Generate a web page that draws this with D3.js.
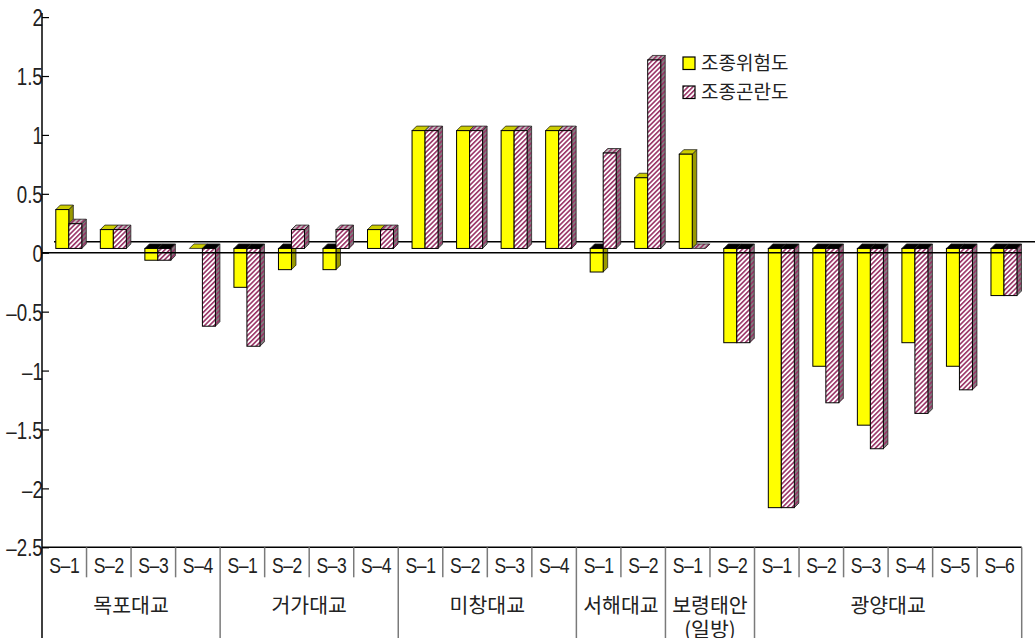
<!DOCTYPE html>
<html>
<head>
<meta charset="utf-8">
<script src="https://cdn.jsdelivr.net/npm/d3@7"></script>
<style>
  body { margin: 0; background: #fff; }
  svg { display: block; }
</style>
</head>
<body>
<div id="plot"></div>
<script>
// data
const subLabels = ["S–1", "S–2", "S–3", "S–4", "S–1", "S–2", "S–3", "S–4", "S–1", "S–2", "S–3", "S–4",
  "S–1", "S–2", "S–1", "S–2", "S–1", "S–2", "S–3", "S–4", "S–5", "S–6"];
const groupNames = ["목포대교", "거가대교", "미창대교", "서해대교", "보령태안|(일방)", "광양대교"];
const groupSizes = [4, 4, 4, 2, 2, 6];
const seriesNames = ["조종위험도", "조종곤란도"];
const riskValues = [0.33, 0.16, -0.1, 0, -0.33, -0.18, -0.18, 0.16, 1, 1, 1, 1,
  -0.2, 0.6, 0.8, -0.8, -2.2, -1, -1.5, -0.8, -1, -0.4];
const difficultyValues = [0.21, 0.16, -0.1, -0.66, -0.83, 0.16, 0.16, 0.16, 1, 1, 1, 1,
  0.81, 1.6, 0, -0.8, -2.2, -1.31, -1.7, -1.4, -1.2, -0.4];
const yTicks = [2, 1.5, 1, 0.5, 0, -0.5, -1, -1.5, -2, -2.5];

const width = 1035,
  height = 638;
const left = 42,
  right = 1021.7;
const depth = 4.5; // bar depth offset
const floorShift = 4.3; // front face of bars sits above the axis zero
const korFont = "'Noto Sans CJK KR', sans-serif";
const numFont = "'Liberation Sans', Arial, sans-serif";

const svg = d3.select("#plot").append("svg").attr("width", width).attr("height", height);

const y = d3.scaleLinear().domain([-2.5, 2]).range([547.3, 17.1]);
const x = d3.scaleBand().domain(d3.range(subLabels.length)).range([left, right]).padding(0);
const xs = d3.scaleBand().domain([0, 1]).range([13.8, 39.8]).padding(0);
const yb = (v) => y(v) - floorShift;

// patterns
const defs = svg.append("defs");
const hatch = (id, bg) => {
  const p = defs.append("pattern").attr("id", id).attr("patternUnits", "userSpaceOnUse")
    .attr("width", 3.4).attr("height", 3.4).attr("patternTransform", "rotate(45)");
  p.append("rect").attr("width", 3.4).attr("height", 3.4).attr("fill", bg);
  p.append("rect").attr("width", 1.6).attr("height", 3.4).attr("fill", "#993366");
};
hatch("hFront", "#ffffff");
hatch("hSide", "#7f7f7f");
hatch("hTop", "#bdbdbd");

const styles = [
  { front: "#ffff00", side: "#999900", top: "#cccc00" },
  { front: "url(#hFront)", side: "url(#hSide)", top: "url(#hTop)" },
];

// back floor line
svg.append("line").attr("x1", left + 12).attr("x2", width).attr("y1", y(0) - 11).attr("y2", y(0) - 11)
  .attr("stroke", "#000").attr("stroke-width", 1.4);

// bars
const bars = [];
subLabels.forEach((s, i) => {
  [riskValues[i], difficultyValues[i]].forEach((v, k) => bars.push({ i, k, v }));
});

const pts = (a) => a.map((p) => p.join(",")).join(" ");

const g = svg.append("g").selectAll("g").data(bars).join("g");
g.each(function (d) {
  const el = d3.select(this);
  const x0 = x(d.i) + xs(d.k),
    x1 = x0 + xs.bandwidth();
  const yT = yb(Math.max(d.v, 0)),
    yB = yb(Math.min(d.v, 0));
  const st = styles[d.k];
  el.append("polygon")
    .attr("points", pts([[x1, yT], [x1 + depth, yT - depth], [x1 + depth, yB - depth], [x1, yB]]))
    .attr("fill", st.side).attr("stroke", "#222").attr("stroke-width", 0.8);
  el.append("polygon")
    .attr("points", pts([[x0, yT], [x0 + depth, yT - depth], [x1 + depth, yT - depth], [x1, yT]]))
    .attr("fill", d.v < 0 ? "#000" : st.top).attr("stroke", "#222").attr("stroke-width", 0.8);
  if (yB - yT > 0)
    el.append("rect").attr("x", x0).attr("y", yT).attr("width", x1 - x0).attr("height", yB - yT)
      .attr("fill", st.front).attr("stroke", "#000").attr("stroke-width", 1);
});

// front zero line
svg.append("line").attr("x1", left).attr("x2", right).attr("y1", y(0)).attr("y2", y(0))
  .attr("stroke", "#000").attr("stroke-width", 1.4);

// y axis
const yAxis = svg.append("g").attr("transform", `translate(${left},0)`)
  .call(d3.axisLeft(y).tickValues(yTicks).tickSizeInner(-7).tickSizeOuter(0).tickPadding(-1)
    .tickFormat((d) => (d < 0 ? "–" + Math.abs(d) : d)));
yAxis.select(".domain").remove();
yAxis.selectAll(".tick line").attr("stroke", "#000").attr("stroke-width", 1.2);
yAxis.selectAll(".tick text").attr("font-family", numFont).attr("font-size", 24).attr("fill", "#222")
  .attr("dy", "0.36em").attr("transform", "scale(0.78,1)");
svg.append("line").attr("x1", left).attr("x2", left).attr("y1", 13).attr("y2", height)
  .attr("stroke", "#000").attr("stroke-width", 1.5);

// category table
const tableTop = y(-2.5);
svg.append("line").attr("x1", left).attr("x2", right).attr("y1", tableTop).attr("y2", tableTop)
  .attr("stroke", "#000").attr("stroke-width", 1.5);

const groupStarts = groupSizes.map((n, j) => d3.sum(groupSizes.slice(0, j)));
d3.range(1, subLabels.length + 1).forEach((i) => {
  const xx = i < subLabels.length ? x(i) : right;
  const full = i === subLabels.length || groupStarts.includes(i);
  svg.append("line").attr("x1", xx).attr("x2", xx).attr("y1", tableTop).attr("y2", full ? height : tableTop + 30)
    .attr("stroke", "#7a7a7a").attr("stroke-width", 1.5);
});

svg.append("g").selectAll("text").data(subLabels).join("text")
  .attr("transform", (d, i) => `translate(${x(i) + x.bandwidth() / 2},572.5) scale(0.78,1)`)
  .attr("text-anchor", "middle").attr("font-family", numFont).attr("font-size", 22.5).attr("fill", "#222")
  .attr("letter-spacing", -0.5)
  .text((d) => d);

const gl = svg.append("g").selectAll("text").data(groupNames).join("text")
  .attr("x", (d, j) => (x(groupStarts[j]) + (groupStarts[j] + groupSizes[j] < subLabels.length
    ? x(groupStarts[j] + groupSizes[j]) : right)) / 2)
  .attr("y", 613).attr("text-anchor", "middle").attr("font-family", korFont).attr("font-size", 20.5)
  .attr("fill", "#222");
gl.each(function (d) {
  const el = d3.select(this);
  const xx = el.attr("x");
  d.split("|").forEach((line, n) => el.append("tspan").attr("x", xx).attr("dy", n ? 24 : 0).text(line));
});

// legend
const legend = svg.append("g").selectAll("g").data(seriesNames).join("g")
  .attr("transform", (d, k) => `translate(683,${57 + k * 29})`);
legend.append("rect").attr("width", 12).attr("height", 12.5)
  .attr("fill", (d, k) => styles[k].front).attr("stroke", "#000").attr("stroke-width", 1.2);
legend.append("text").attr("x", 18).attr("y", 13).attr("font-family", korFont).attr("font-size", 19)
  .attr("fill", "#222").text((d) => d);
</script>
</body>
</html>
